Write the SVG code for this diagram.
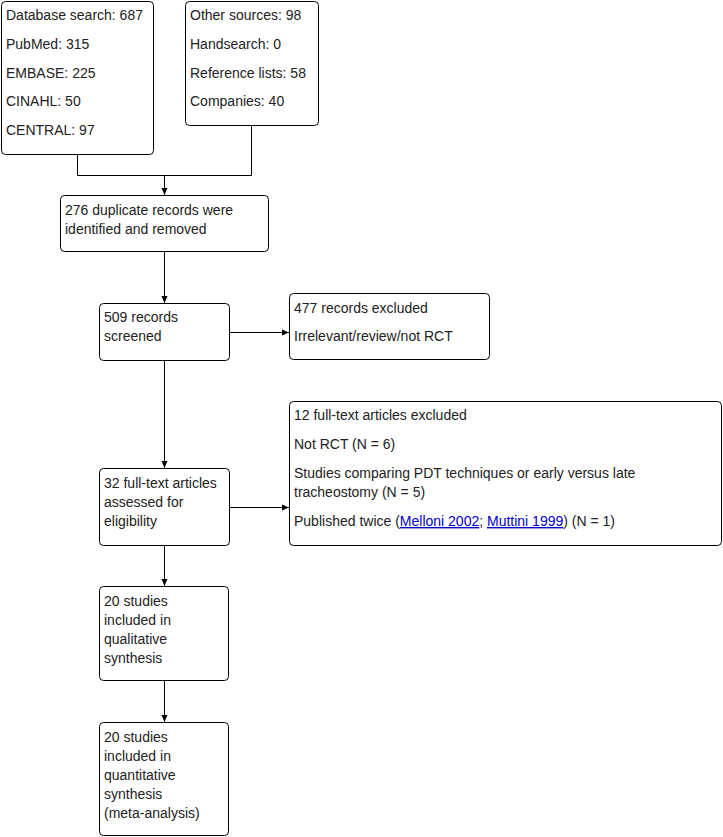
<svg xmlns="http://www.w3.org/2000/svg" width="723" height="837" viewBox="0 0 723 837">
<defs>
<marker id="arr" markerWidth="8" markerHeight="8" refX="7" refY="4" orient="auto" markerUnits="userSpaceOnUse">
<path d="M0,1 L7,4 L0,7 Z" fill="#000"/>
</marker>
<style>
.box{fill:#fff;stroke:#000;stroke-width:1}
.t{font-family:"Liberation Sans",Arial,sans-serif;font-size:14px;fill:#222}
.c{fill:none;stroke:#000;stroke-width:1}
.lnk{fill:#0000cc;text-decoration:underline}
</style>
</defs>
<rect width="723" height="837" fill="#fff"/>
<g id="connectors">
<path class="c" d="M77.5,154 V175.5 H251.5 V125"/>
<path class="c" d="M164.5,175.5 V195" marker-end="url(#arr)"/>
<path class="c" d="M164.5,251 V303" marker-end="url(#arr)"/>
<path class="c" d="M229,332.5 H289" marker-end="url(#arr)"/>
<path class="c" d="M164.5,360 V468" marker-end="url(#arr)"/>
<path class="c" d="M229,507.5 H289" marker-end="url(#arr)"/>
<path class="c" d="M164.5,545 V586" marker-end="url(#arr)"/>
<path class="c" d="M164.5,680 V722" marker-end="url(#arr)"/>
</g>
<g id="db">
<rect class="box" x="1.5" y="1.5" width="152" height="153" rx="4"/>
<text class="t" x="6" y="20">Database search: 687</text>
<text class="t" x="6" y="49">PubMed: 315</text>
<text class="t" x="6" y="78">EMBASE: 225</text>
<text class="t" x="6" y="106">CINAHL: 50</text>
<text class="t" x="6" y="135">CENTRAL: 97</text>
</g>
<g id="other">
<rect class="box" x="185.5" y="1.5" width="133" height="124" rx="4"/>
<text class="t" x="190" y="20">Other sources: 98</text>
<text class="t" x="190" y="49">Handsearch: 0</text>
<text class="t" x="190" y="78">Reference lists: 58</text>
<text class="t" x="190" y="106">Companies: 40</text>
</g>
<g id="dup">
<rect class="box" x="60.5" y="195.5" width="208" height="56" rx="4"/>
<text class="t" x="65" y="215">276 duplicate records were</text>
<text class="t" x="65" y="234">identified and removed</text>
</g>
<g id="screened">
<rect class="box" x="99.5" y="303.5" width="130" height="57" rx="4"/>
<text class="t" x="104" y="322">509 records</text>
<text class="t" x="104" y="341">screened</text>
</g>
<g id="excluded1">
<rect class="box" x="289.5" y="293.5" width="200" height="66" rx="4"/>
<text class="t" x="294" y="313">477 records excluded</text>
<text class="t" x="294" y="341">Irrelevant/review/not RCT</text>
</g>
<g id="fulltext">
<rect class="box" x="99.5" y="468.5" width="130" height="77" rx="4"/>
<text class="t" x="104" y="488">32 full-text articles</text>
<text class="t" x="104" y="507">assessed for</text>
<text class="t" x="104" y="526">eligibility</text>
</g>
<g id="excluded2">
<rect class="box" x="289.5" y="401.5" width="432" height="144" rx="4"/>
<text class="t" x="294" y="420">12 full-text articles excluded</text>
<text class="t" x="294" y="449">Not RCT (N = 6)</text>
<text class="t" x="294" y="478">Studies comparing PDT techniques or early versus late</text>
<text class="t" x="294" y="497">tracheostomy (N = 5)</text>
<text class="t" x="294" y="526">Published twice (<tspan class="lnk">Melloni 2002</tspan>; <tspan class="lnk">Muttini 1999</tspan>) (N = 1)</text>
</g>
<g id="qual">
<rect class="box" x="99.5" y="586.5" width="129" height="94" rx="4"/>
<text class="t" x="104" y="606">20 studies</text>
<text class="t" x="104" y="625">included in</text>
<text class="t" x="104" y="644">qualitative</text>
<text class="t" x="104" y="663">synthesis</text>
</g>
<g id="quant">
<rect class="box" x="99.5" y="722.5" width="129" height="113" rx="4"/>
<text class="t" x="104" y="742">20 studies</text>
<text class="t" x="104" y="761">included in</text>
<text class="t" x="104" y="780">quantitative</text>
<text class="t" x="104" y="799">synthesis</text>
<text class="t" x="104" y="818">(meta-analysis)</text>
</g>
</svg>
